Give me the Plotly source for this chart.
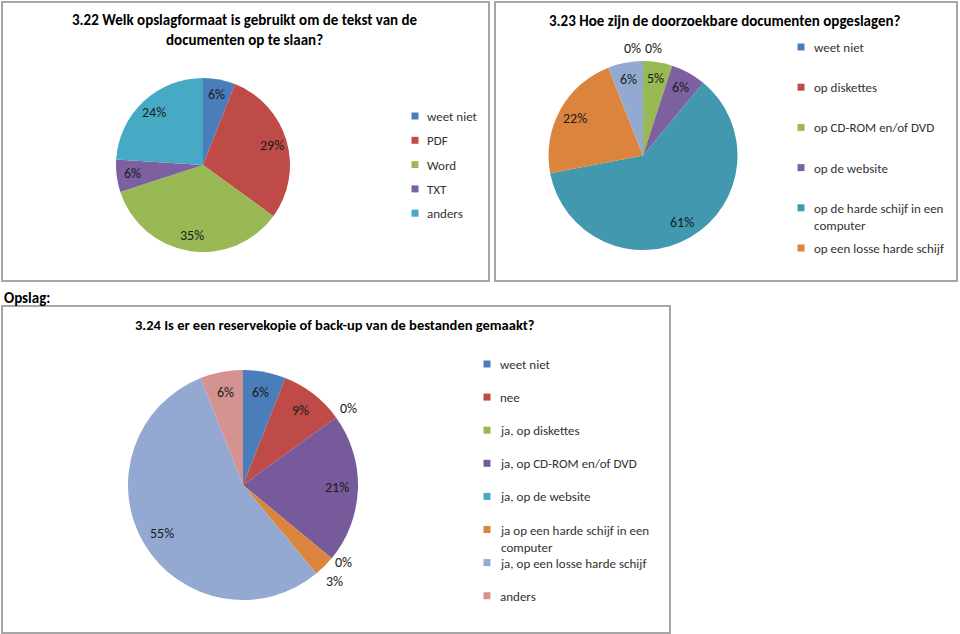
import math
import textwrap
import plotly.graph_objects as go

W, H = 960, 634
FONT = "Carlito, Calibri, Lato, sans-serif"

# ---------------- data ----------------
c1_title = "3.22 Welk opslagformaat is gebruikt om de tekst van de<br>documenten op te slaan?"
c1_labels = ["weet niet", "PDF", "Word", "TXT", "anders"]
c1_values = [6, 29, 35, 6, 24]
c1_colors = ["#4A7EBB", "#BE4B48", "#98B954", "#7D60A0", "#46AAC5"]

c2_title = "3.23 Hoe zijn de doorzoekbare documenten opgeslagen?"
c2_labels = ["weet niet", "op diskettes", "op CD-ROM en/of DVD", "op de website",
             "op de harde schijf in een computer", "op een losse harde schijf", "anders"]
c2_values = [0, 0, 5, 6, 61, 22, 6]
c2_colors = ["#4A7EBB", "#BE4B48", "#98B954", "#7D60A0", "#4198AF", "#DB843D", "#94A9D1"]
c2_legend_count = 6  # legend in the picture is cut off after six entries

c3_title = "3.24 Is er een reservekopie of back-up van de bestanden gemaakt?"
c3_labels = ["weet niet", "nee", "ja, op diskettes", "ja, op CD-ROM en/of DVD", "ja, op de website",
             "ja op een harde schijf in een computer", "ja, op een losse harde schijf", "anders"]
c3_values = [6, 9, 0, 21, 0, 3, 55, 6]
c3_colors = ["#4A7EBB", "#BE4B48", "#98B954", "#765A9B", "#46AAC5", "#DB843D", "#93A9D2", "#D49391"]
c3_outside = [False, False, True, False, True, True, False, False]

section_label = "Opslag:"

# ---------------- layout helpers ----------------
def px(x):
    return x / W

def py(y):
    return 1 - y / H

fig = go.Figure()
shapes = []
annotations = []

def add_pie(labels, values, colors, cx, cy, r, outside=None):
    fig.add_trace(go.Pie(
        labels=labels, values=values, sort=False, direction="clockwise", rotation=0,
        marker=dict(colors=colors, line=dict(width=0)),
        textinfo="none", hoverinfo="label+percent", showlegend=False,
        domain=dict(x=[px(cx - r), px(cx + r)], y=[py(cy + r), py(cy - r)]),
    ))
    total = sum(values)
    cum = 0
    groups = {}
    items = []
    for i, v in enumerate(values):
        mid = (cum + v / 2) / total * 2 * math.pi
        cum += v
        out = (v == 0) if outside is None else outside[i]
        k = 1.13 if out else 0.82
        x = cx + k * r * math.sin(mid)
        y = cy - k * r * math.cos(mid)
        items.append([i, v, mid, out, x, y])
        if v == 0:
            groups.setdefault(round(mid, 6), []).append(i)
    # zero slices sharing the same angle: spread along the tangent
    for it in items:
        i, v, mid = it[0], it[1], it[2]
        if v == 0 and len(groups[round(mid, 6)]) > 1:
            g = groups[round(mid, 6)]
            off = (g.index(i) - (len(g) - 1) / 2) * 21
            it[4] += off * math.cos(mid)
            it[5] += off * math.sin(mid)
    # outside labels at different angles that collide: push apart vertically
    outs = sorted([it for it in items if it[3]], key=lambda t: t[5])
    for a, b in zip(outs, outs[1:]):
        if abs(a[2] - b[2]) > 1e-6 and abs(a[4] - b[4]) < 24 and b[5] - a[5] < 19:
            m = (a[5] + b[5]) / 2
            a[5], b[5] = m - 9.5, m + 9.5
    for i, v, mid, out, x, y in items:
        annotations.append(dict(
            x=px(x), y=py(y), xref="paper", yref="paper", showarrow=False,
            text=f"{round(v / total * 100)}%", xanchor="center", yanchor="middle",
            font=dict(family=FONT, size=14, color="#1a1a1a"),
        ))

def add_legend(labels, colors, sq_x, text_x, y0, step, wrap):
    for i, (lab, col) in enumerate(zip(labels, colors)):
        y = y0 + i * step
        shapes.append(dict(type="rect", xref="paper", yref="paper",
                           x0=px(sq_x - 3.5), x1=px(sq_x + 3.5), y0=py(y + 3.5), y1=py(y - 3.5),
                           fillcolor=col, line=dict(width=0)))
        lines = textwrap.wrap(lab, wrap)
        annotations.append(dict(
            x=px(text_x), y=py(y - 9), xref="paper", yref="paper", showarrow=False,
            text="<br>".join(lines), xanchor="left", yanchor="top", align="left",
            font=dict(family=FONT, size=13, color="#333333"),
        ))

def add_box(x0, y0, x1, y1):
    shapes.append(dict(type="rect", xref="paper", yref="paper",
                       x0=px(x0), x1=px(x1), y0=py(y1), y1=py(y0),
                       line=dict(color="#A6A6A6", width=2), fillcolor="rgba(0,0,0,0)"))

def add_title(text, x, y, size):
    annotations.append(dict(
        x=px(x), y=py(y), xref="paper", yref="paper", showarrow=False,
        text=f"<b>{text}</b>", xanchor="center", yanchor="middle",
        font=dict(family=FONT, size=size, color="#000000"),
    ))

# chart 3.22
add_box(2, 2, 489, 281)
add_title(c1_title, 245, 30, 15)
add_pie(c1_labels, c1_values, c1_colors, 203, 165, 87)
add_legend(c1_labels, c1_colors, 415, 425, 116, 24.3, 30)

# chart 3.23
add_box(495, 2, 957, 281)
add_title(c2_title, 725, 21, 15)
add_pie(c2_labels, c2_values, c2_colors, 643, 155.5, 94.5)
add_legend(c2_labels[:c2_legend_count], c2_colors[:c2_legend_count], 801, 812, 47, 40.2, 25)

# section label
annotations.append(dict(x=px(2), y=py(298), xref="paper", yref="paper", showarrow=False,
                        text=f"<b>{section_label}</b>", xanchor="left", yanchor="middle",
                        font=dict(family=FONT, size=15, color="#000000")))

# chart 3.24
add_box(2, 306, 670, 633)
add_title(c3_title, 335, 325, 14.5)
add_pie(c3_labels, c3_values, c3_colors, 243, 485, 115, outside=c3_outside)
add_legend(c3_labels, c3_colors, 487, 498, 364, 33.1, 29)

fig.update_layout(
    width=W, height=H, margin=dict(l=0, r=0, t=0, b=0),
    paper_bgcolor="white", plot_bgcolor="white",
    shapes=shapes, annotations=annotations, showlegend=False,
)

fig.write_html("out.html", config={"displayModeBar": False},
               post_script="document.body.style.margin='0';document.body.style.overflow='hidden';")
